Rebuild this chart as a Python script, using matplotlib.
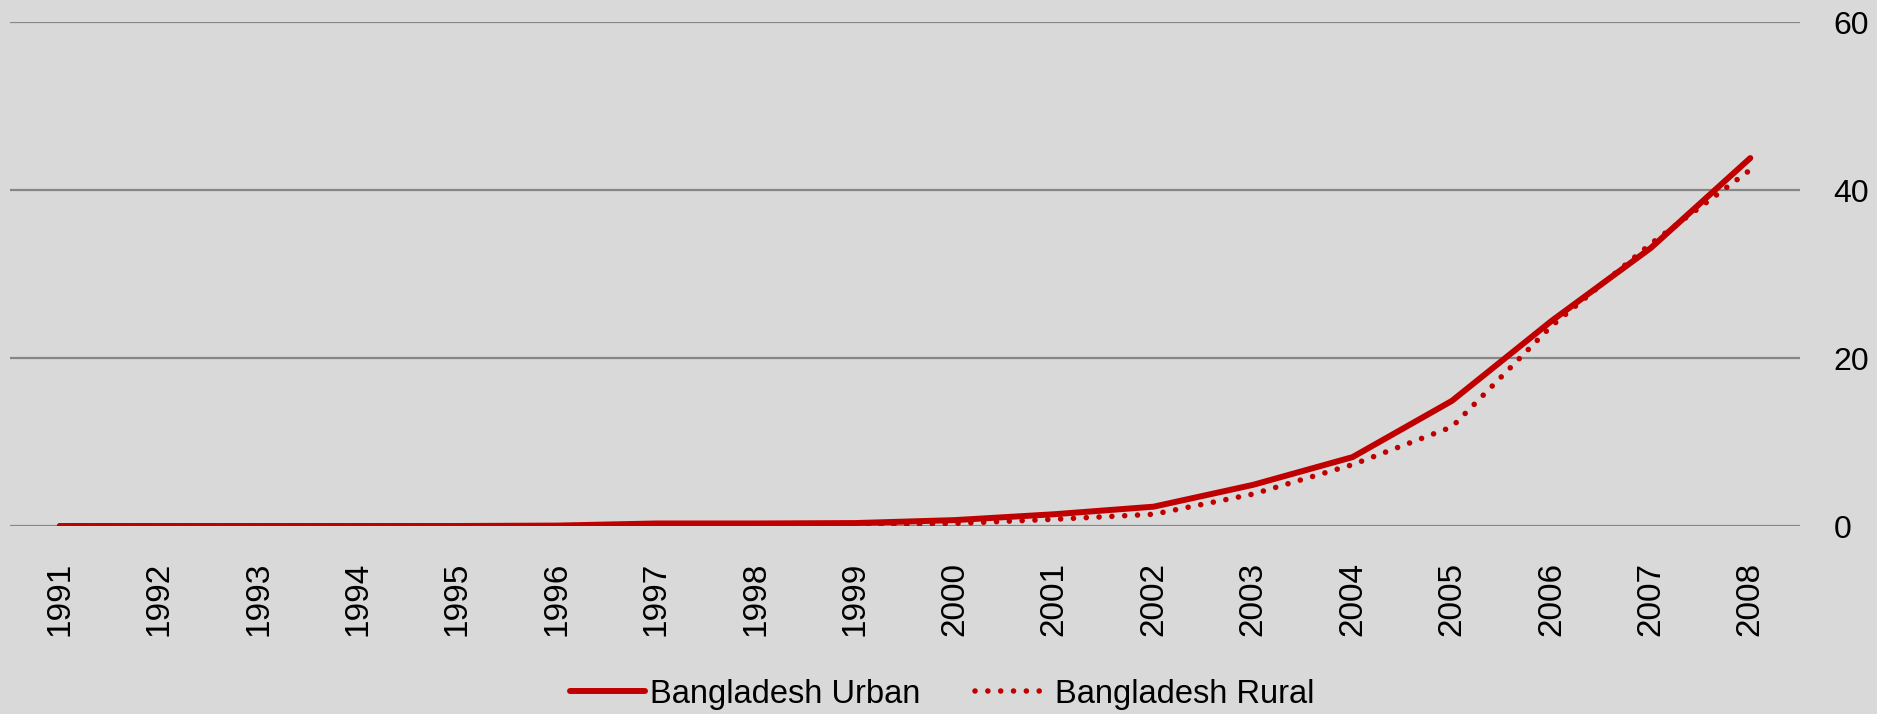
import matplotlib
matplotlib.use('Agg')
import matplotlib.pyplot as plt

# values
years = [str(y) for y in range(1991, 2009)]
urban = [0, 0, 0, 0, 0, 0.05, 0.3, 0.3, 0.35, 0.7, 1.4, 2.3, 4.9, 8.2, 14.9, 24.4, 33.1, 43.8]
rural = [0, 0, 0, 0, 0, 0, 0, 0, 0, 0.3, 0.8, 1.4, 3.8, 7.3, 11.8, 23.8, 33.6, 42.4]
yticks = [0, 20, 40, 60]

bg = '#D9D9D9'
red = '#C00000'
grid = '#878787'
font = 'Liberation Sans'

fig = plt.figure(figsize=(18.77, 7.14), dpi=100, facecolor=bg)
ax = fig.add_axes([10/1877, 1 - 526/714, 1790/1877, 504/714])
ax.set_facecolor(bg)

x = list(range(len(years)))
ax.plot(x, urban, color=red, lw=4.3, solid_capstyle='round', label='Bangladesh Urban', zorder=3)
ax.plot(x, rural, color=red, lw=4.0, linestyle=(0, (0.01, 2.3)), dash_capstyle='round',
        label='Bangladesh Rural', zorder=4)

ax.set_xlim(-0.5, len(years) - 0.5)
ax.set_ylim(0, 60)
ax.set_yticks(yticks)
ax.yaxis.grid(True, color=grid, lw=1.6)
ax.set_axisbelow(True)
for s in ax.spines.values():
    s.set_visible(False)

ax.set_xticks(x)
ax.set_xticklabels(years, rotation=90)
ax.tick_params(axis='x', length=0, pad=26, labelsize=24, labelfontfamily=font)
ax.yaxis.tick_right()
ax.tick_params(axis='y', length=0, pad=24, labelsize=23, labelfontfamily=font)

leg = fig.legend(loc='center', bbox_to_anchor=(0.502, 1 - 694/714), ncol=2, frameon=False,
                 prop={'family': font, 'size': 23.5},
                 handlelength=2.3, handletextpad=0.15, columnspacing=1.7)

fig.savefig('out.png', dpi=100, facecolor=bg)
